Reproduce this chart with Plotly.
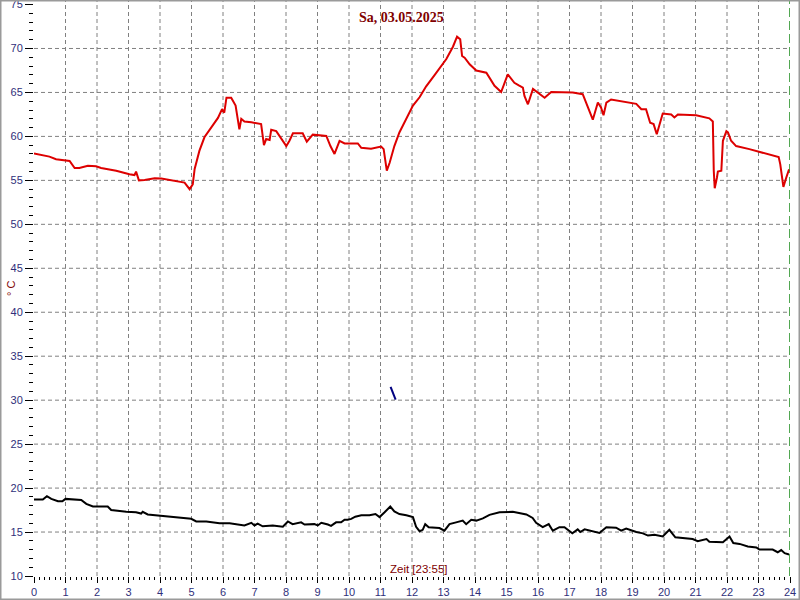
import plotly.graph_objects as go

# ---- data ----
red_hours = [0.0, 0.49, 0.7, 1.13, 1.29, 1.44, 1.71, 1.97, 2.13, 2.61, 3.03, 3.19, 3.24, 3.33, 3.51,
             3.83, 4.04, 4.51, 4.78, 4.94, 5.04, 5.10, 5.25, 5.41, 5.63, 5.84, 5.97, 6.04, 6.11, 6.26,
             6.40, 6.52, 6.58, 6.68, 6.9, 7.21, 7.3, 7.37, 7.48, 7.53, 7.69, 7.85, 8.01, 8.11, 8.22,
             8.53, 8.66, 8.85, 9.28, 9.41, 9.54, 9.7, 9.86, 10.28, 10.39, 10.7, 11.02, 11.1, 11.2, 11.29,
             11.44, 11.6, 11.82, 12.03, 12.24, 12.45, 12.71, 13.09, 13.3, 13.43, 13.53, 13.59, 13.67, 13.83, 14.04,
             14.36, 14.62, 14.83, 15.04, 15.25, 15.39, 15.52, 15.57, 15.68, 15.84, 15.99, 16.21, 16.42, 17.1, 17.42,
             17.58, 17.74, 17.9, 18.0, 18.08, 18.17, 18.32, 18.59, 19.12, 19.28, 19.43, 19.56, 19.67, 19.77, 19.86,
             19.96, 20.23, 20.33, 20.44, 21.02, 21.44, 21.55, 21.58, 21.61, 21.68, 21.71, 21.82, 21.87, 21.98, 22.03,
             22.13, 22.29, 22.71, 23.14, 23.64, 23.69, 23.75, 23.79, 23.88, 23.97]
red_temp = [58.05, 57.7, 57.4, 57.2, 56.4, 56.4, 56.65, 56.6, 56.4, 56.1, 55.7, 55.6, 56.0, 55.0, 55.05,
            55.25, 55.2, 54.95, 54.75, 54.0, 54.55, 56.3, 58.35, 59.9, 61.0, 62.1, 63.1, 62.7, 64.4, 64.4,
            63.5, 60.8, 62.0, 61.7, 61.6, 61.4, 59.0, 59.7, 59.6, 60.75, 60.6, 59.7, 58.9, 59.5, 60.35,
            60.35, 59.4, 60.2, 60.05, 58.9, 58.0, 59.5, 59.2, 59.2, 58.7, 58.6, 58.85, 58.55, 56.1, 57.0,
            58.9, 60.45, 61.95, 63.5, 64.45, 65.7, 66.95, 68.8, 70.2, 71.35, 71.05, 69.15, 68.95, 68.2, 67.5,
            67.25, 65.75, 65.05, 67.05, 66.1, 65.8, 65.55, 64.6, 63.65, 65.4, 65.0, 64.4, 65.05, 65.0, 64.8,
            63.45, 61.9, 63.85, 63.3, 62.4, 63.85, 64.2, 64.05, 63.7, 63.1, 63.1, 61.55, 61.4, 60.25, 61.4,
            62.6, 62.5, 62.15, 62.5, 62.4, 62.05, 61.7, 56.1, 54.1, 55.3, 56.0, 56.1, 59.5, 60.6, 60.45,
            59.5, 58.9, 58.55, 58.15, 57.65, 56.85, 55.5, 54.25, 55.3, 56.25]

black_hours = [0.0, 0.28, 0.41, 0.55, 0.76, 0.9, 1.0, 1.23, 1.5, 1.66, 1.87, 2.34, 2.45, 2.93, 3.24,
               3.4, 3.45, 3.61, 4.3, 4.99, 5.15, 5.47, 5.89, 6.21, 6.68, 6.9, 7.0, 7.1, 7.26, 7.58,
               7.9, 8.06, 8.21, 8.48, 8.59, 8.9, 9.01, 9.12, 9.33, 9.43, 9.59, 9.75, 9.86, 9.96, 10.07,
               10.2, 10.39, 10.65, 10.84, 10.97, 11.13, 11.31, 11.44, 11.6, 11.82, 12.03, 12.13, 12.24, 12.34, 12.42,
               12.53, 12.87, 13.03, 13.19, 13.4, 13.61, 13.72, 13.88, 14.04, 14.25, 14.46, 14.78, 15.2, 15.63, 15.83,
               15.94, 16.15, 16.34, 16.47, 16.68, 16.84, 17.09, 17.26, 17.34, 17.48, 17.69, 17.95, 18.17, 18.48, 18.64,
               18.8, 19.12, 19.33, 19.49, 19.7, 19.96, 20.17, 20.36, 20.6, 20.91, 21.07, 21.23, 21.35, 21.44, 21.87,
               22.08, 22.2, 22.4, 22.66, 22.93, 23.03, 23.45, 23.61, 23.72, 23.83, 23.97]
black_temp = [18.7, 18.7, 19.07, 18.77, 18.5, 18.5, 18.77, 18.7, 18.65, 18.2, 17.9, 17.9, 17.5, 17.3, 17.25,
              17.1, 17.3, 17.0, 16.75, 16.5, 16.2, 16.2, 16.0, 16.0, 15.75, 16.05, 15.75, 15.95, 15.65, 15.75,
              15.6, 16.2, 15.9, 16.1, 15.85, 15.9, 15.75, 16.05, 15.85, 15.7, 16.1, 16.1, 16.4, 16.4, 16.5,
              16.75, 16.9, 16.9, 17.05, 16.7, 17.25, 17.9, 17.35, 17.05, 16.9, 16.7, 15.6, 15.1, 15.25, 15.9,
              15.55, 15.45, 15.15, 15.9, 16.1, 16.3, 15.9, 16.4, 16.3, 16.55, 16.95, 17.25, 17.3, 17.0, 16.6,
              16.05, 15.55, 15.9, 15.15, 15.55, 15.55, 14.85, 15.3, 15.0, 15.3, 15.1, 14.9, 15.55, 15.5, 15.15,
              15.4, 15.0, 14.85, 14.6, 14.7, 14.5, 15.25, 14.4, 14.3, 14.2, 13.95, 14.05, 14.2, 13.9, 13.85,
              14.5, 13.75, 13.65, 13.35, 13.25, 13.0, 13.0, 12.7, 12.95, 12.6, 12.45]

blue_hours = [11.32, 11.48]
blue_temp = [31.5, 30.05]

hour_ticks = list(range(0, 25))
temp_ticks = list(range(10, 80, 5))
grid_hours = list(range(1, 24))
grid_temps = list(range(15, 75, 5))
end_hour = 24

title_text = "Sa, 03.05.2025"
xlabel_text = "Zeit [23:55]"
ylabel_text = "° C"

# ---- figure ----
W, H = 800, 600
ML, MR, MT, MB = 34, 10, 1, 24
PW, PH = W - ML - MR, H - MT - MB

def px_x(p):
    return (p - ML) / PW

def px_y(p):
    return (H - MB - p) / PH

fig = go.Figure()
fig.add_trace(go.Scatter(x=black_hours, y=black_temp, mode="lines",
                         line=dict(color="#000000", width=2), hoverinfo="skip"))
fig.add_trace(go.Scatter(x=red_hours, y=red_temp, mode="lines",
                         line=dict(color="#dd0000", width=2), hoverinfo="skip"))
fig.add_trace(go.Scatter(x=blue_hours, y=blue_temp, mode="lines",
                         line=dict(color="#000080", width=2), hoverinfo="skip"))

shapes = []
grid_style = dict(color="#808080", width=1, dash="4px,3px")
for h in grid_hours:
    shapes.append(dict(type="line", xref="x", yref="paper", x0=h, x1=h, y0=0, y1=1,
                       line=grid_style, layer="below"))
for t in grid_temps:
    shapes.append(dict(type="line", xref="paper", yref="y", x0=0, x1=1, y0=t, y1=t,
                       line=grid_style, layer="below"))
shapes.append(dict(type="line", xref="x", yref="paper", x0=end_hour, x1=end_hour, y0=0, y1=1,
                   line=dict(color="#1a8a1a", width=1.5, dash="9px,4px")))
# outer frame
shapes.append(dict(type="rect", xref="paper", yref="paper",
                   x0=px_x(0.75), x1=px_x(799.25), y0=px_y(599.25), y1=px_y(0.75),
                   line=dict(color="#9a9a9a", width=1.5), fillcolor="rgba(0,0,0,0)"))

tickfont = dict(family="Liberation Sans, Arial, sans-serif", size=11, color="#30307a")
dark_red = "#800000"

fig.update_layout(
    width=W, height=H,
    margin=dict(l=ML, r=MR, t=MT, b=MB, pad=0),
    paper_bgcolor="white", plot_bgcolor="white",
    showlegend=False,
    shapes=shapes,
    xaxis=dict(range=[0, 24], tickmode="array", tickvals=hour_ticks,
               ticks="outside", ticklen=6, tickcolor="#000000", tickwidth=1,
               showgrid=False, zeroline=False, showline=False,
               tickfont=tickfont, automargin=False, ticklabeloverflow="allow",
               minor=dict(dtick=1/6, tick0=0, ticks="outside", ticklen=3,
                          tickcolor="#000000", showgrid=False)),
    yaxis=dict(range=[10, 75.4], tickmode="array", tickvals=temp_ticks,
               ticks="outside", ticklen=8, tickcolor="#000000", tickwidth=1,
               showgrid=False, zeroline=False, showline=False,
               tickfont=tickfont, automargin=False, ticklabeloverflow="allow",
               minor=dict(dtick=1, tick0=0, ticks="outside", ticklen=4,
                          tickcolor="#000000", showgrid=False)),
    annotations=[
        dict(text=title_text, xref="paper", yref="paper", x=px_x(401), y=px_y(17),
             xanchor="center", yanchor="middle", showarrow=False,
             font=dict(family="Liberation Serif, Times New Roman, serif", size=14,
                       color=dark_red, weight="bold")),
        dict(text=xlabel_text, xref="paper", yref="paper", x=px_x(419), y=px_y(569),
             xanchor="center", yanchor="middle", showarrow=False,
             font=dict(family="Liberation Sans, Arial, sans-serif", size=11.5, color=dark_red)),
        dict(text=ylabel_text, xref="paper", yref="paper", x=px_x(11), y=px_y(289),
             xanchor="center", yanchor="middle", showarrow=False, textangle=-90,
             font=dict(family="Liberation Sans, Arial, sans-serif", size=11, color=dark_red)),
    ],
)

fig.write_html("out.html", config={"displayModeBar": False},
               post_script="document.body.style.margin='0px';document.body.style.overflow='hidden';")
